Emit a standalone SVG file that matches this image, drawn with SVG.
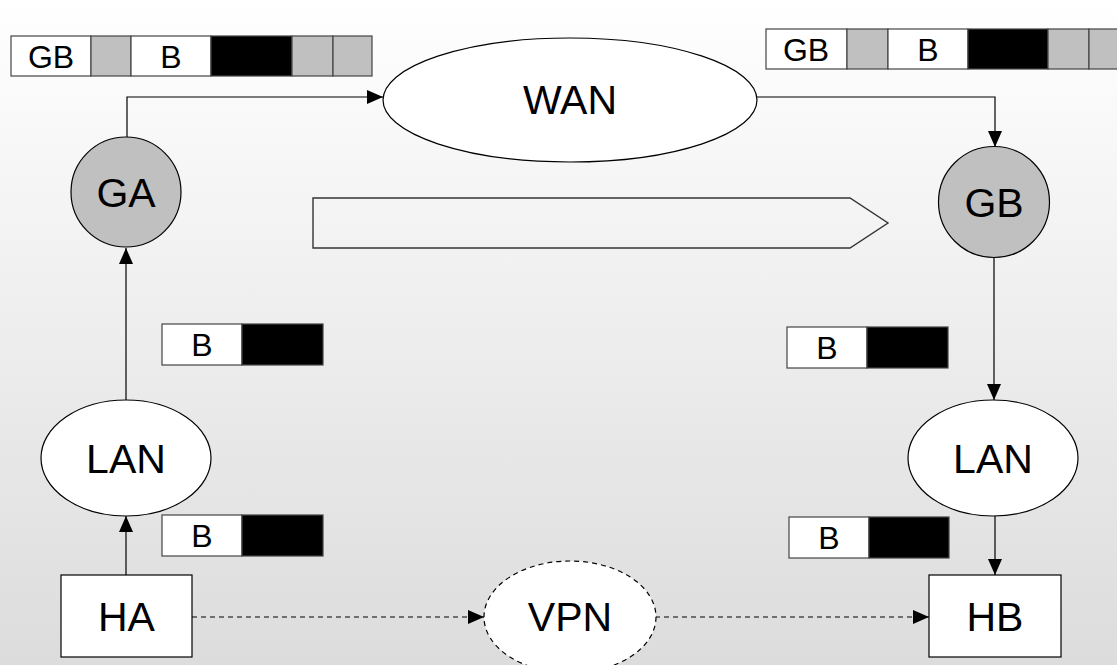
<svg xmlns="http://www.w3.org/2000/svg" width="1117" height="665" viewBox="0 0 1117 665">
<defs>
<linearGradient id="bg" x1="0" y1="0" x2="0" y2="1">
<stop offset="0" stop-color="#ffffff"/>
<stop offset="1" stop-color="#dcdcdc"/>
</linearGradient>
<marker id="ah" viewBox="0 0 16 14" refX="16" refY="7" markerWidth="16" markerHeight="14" markerUnits="userSpaceOnUse" orient="auto">
<path d="M0,0 L16,7 L0,14 Z" fill="#000"/>
</marker>
<style>
.lbl{font-family:"Liberation Sans",Arial,sans-serif;font-size:41px;fill:#000;text-anchor:middle;dominant-baseline:central}
.pl{font-family:"Liberation Sans",Arial,sans-serif;font-size:32px;fill:#000;text-anchor:middle;dominant-baseline:central}
.node{stroke:#000;stroke-width:1.2}
.cell{stroke:#444;stroke-width:1.2}
.w{fill:#fff}.g{fill:#c0c0c0}.k{fill:#000}
.con{fill:none;stroke:#000;stroke-width:1.2}
.dash{stroke-dasharray:5,4}
</style>
</defs>
<rect x="0" y="0" width="1117" height="665" fill="url(#bg)"/>

<g id="connectors">
<path class="con" d="M126,575 V516" marker-end="url(#ah)"/>
<path class="con" d="M126,400 V248" marker-end="url(#ah)"/>
<path class="con" d="M127,137 V97 H383" marker-end="url(#ah)"/>
<path class="con" d="M756,97 H995 V147" marker-end="url(#ah)"/>
<path class="con" d="M994,258 V400" marker-end="url(#ah)"/>
<path class="con" d="M995,516 V575" marker-end="url(#ah)"/>
<path class="con dash" d="M192,617 H484" marker-end="url(#ah)"/>
<path class="con dash" d="M655,617 H929" marker-end="url(#ah)"/>
</g>

<g id="packet-top-left">
<rect class="cell w" x="11" y="36" width="80" height="40"/>
<rect class="cell g" x="91" y="36" width="40" height="40"/>
<rect class="cell w" x="131" y="36" width="80" height="40"/>
<rect class="cell k" x="211" y="36" width="81" height="40"/>
<rect class="cell g" x="292" y="36" width="41" height="40"/>
<rect class="cell g" x="333" y="36" width="39" height="40"/>
<text class="pl" x="51" y="57">GB</text>
<text class="pl" x="171" y="57">B</text>
</g>

<g id="packet-top-right">
<rect class="cell w" x="766" y="29" width="81" height="40"/>
<rect class="cell g" x="847" y="29" width="41" height="40"/>
<rect class="cell w" x="888" y="29" width="80" height="40"/>
<rect class="cell k" x="968" y="29" width="80" height="40"/>
<rect class="cell g" x="1048" y="29" width="41" height="40"/>
<rect class="cell g" x="1089" y="29" width="40" height="40"/>
<text class="pl" x="806" y="50">GB</text>
<text class="pl" x="928" y="50">B</text>
</g>

<g id="wan">
<ellipse class="node w" cx="570" cy="100" rx="187" ry="62"/>
<text class="lbl" x="570" y="100">WAN</text>
</g>

<g id="ga">
<circle class="node g" cx="126" cy="192" r="55"/>
<text class="lbl" x="126" y="193">GA</text>
</g>

<g id="gb">
<circle class="node g" cx="994" cy="202" r="55.5"/>
<text class="lbl" x="994" y="203">GB</text>
</g>

<g id="flow-arrow">
<path d="M313,198 H850 L888,223 L850,248 H313 Z" fill="none" stroke="#333" stroke-width="1.4"/>
</g>

<g id="packet-left-upper">
<rect class="cell w" x="162" y="324" width="80" height="41"/>
<rect class="cell k" x="242" y="324" width="81" height="41"/>
<text class="pl" x="202" y="345">B</text>
</g>

<g id="packet-left-lower">
<rect class="cell w" x="162" y="515" width="80" height="41"/>
<rect class="cell k" x="242" y="515" width="81" height="41"/>
<text class="pl" x="202" y="536">B</text>
</g>

<g id="packet-right-upper">
<rect class="cell w" x="787" y="327" width="80" height="41"/>
<rect class="cell k" x="867" y="327" width="81" height="41"/>
<text class="pl" x="827" y="348">B</text>
</g>

<g id="packet-right-lower">
<rect class="cell w" x="789" y="517" width="80" height="41"/>
<rect class="cell k" x="869" y="517" width="80" height="41"/>
<text class="pl" x="829" y="538">B</text>
</g>

<g id="lan-left">
<ellipse class="node w" cx="126" cy="458" rx="85" ry="58"/>
<text class="lbl" x="126" y="459">LAN</text>
</g>

<g id="lan-right">
<ellipse class="node w" cx="993" cy="458" rx="85" ry="58"/>
<text class="lbl" x="993" y="459">LAN</text>
</g>

<g id="ha">
<rect class="node w" x="61" y="575" width="131" height="82"/>
<text class="lbl" x="126.5" y="617">HA</text>
</g>

<g id="vpn">
<ellipse class="node w dash" cx="570" cy="617" rx="86" ry="56"/>
<text class="lbl" x="570" y="617">VPN</text>
</g>

<g id="hb">
<rect class="node w" x="929" y="575" width="132" height="82"/>
<text class="lbl" x="995" y="617">HB</text>
</g>
</svg>
